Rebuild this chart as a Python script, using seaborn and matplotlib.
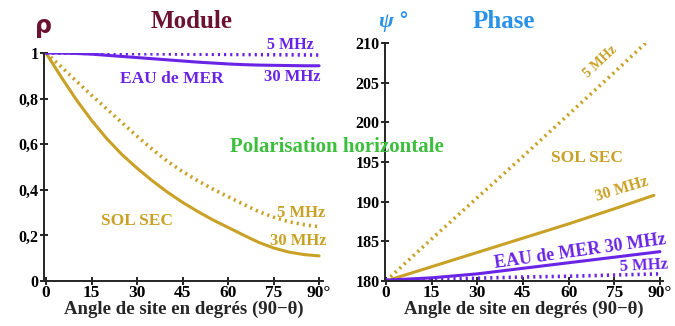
import matplotlib
matplotlib.use("Agg")
import matplotlib.pyplot as plt
import seaborn as sns

# Module (rho) vs elevation angle, read every 5 degrees
angle_mod = [0, 5, 10, 15, 20, 25, 30, 35, 40, 45, 50, 55, 60, 65, 70, 75, 80, 85, 90]
sol_sec_5_mod = [1.0, 0.94, 0.877, 0.815, 0.755, 0.695, 0.635, 0.578, 0.525, 0.48,
                 0.44, 0.403, 0.37, 0.337, 0.305, 0.28, 0.26, 0.247, 0.238]
sol_sec_30_mod = [1.0, 0.895, 0.795, 0.705, 0.625, 0.555, 0.495, 0.44, 0.39, 0.345,
                  0.305, 0.268, 0.235, 0.202, 0.17, 0.145, 0.127, 0.116, 0.11]
eau_mer_5_mod = [1.0, 0.9995, 0.999, 0.9985, 0.998, 0.9975, 0.997, 0.9965, 0.996, 0.9955,
                 0.995, 0.9945, 0.994, 0.9935, 0.993, 0.9925, 0.992, 0.9915, 0.991]
eau_mer_30_mod = [1.0, 0.9995, 0.998, 0.995, 0.99, 0.985, 0.98, 0.975, 0.97, 0.965,
                  0.96, 0.956, 0.952, 0.949, 0.947, 0.946, 0.945, 0.944, 0.944]

# Phase (psi) vs elevation angle
angle_sol5_ph = [0, 15, 30, 45, 60, 75, 87]
sol_sec_5_ph = [180.0, 185.3, 190.5, 195.7, 201.0, 206.3, 210.6]
angle_sol30_ph = [0, 15, 30, 45, 60, 75, 88]
sol_sec_30_ph = [180.0, 181.8, 183.6, 185.4, 187.2, 189.1, 190.8]
angle_mer_ph = [0, 15, 30, 45, 60, 75, 90]
eau_mer_30_ph = [180.1, 180.4, 180.9, 181.6, 182.3, 183.0, 183.7]
eau_mer_5_ph = [180.1, 180.2, 180.35, 180.5, 180.6, 180.75, 180.9]

x_ticks = [0, 15, 30, 45, 60, 75, 90]
x_ticklabels = ["0", "15", "30", "45", "60", "75", "90°"]
mod_ticks = [0, 0.2, 0.4, 0.6, 0.8, 1]
mod_ticklabels = ["0", "0,2", "0,4", "0,6", "0,8", "1"]
ph_ticks = [180, 185, 190, 195, 200, 205, 210]

GOLD = "#C9A126"
PURPLE = "#6A24E6"
GREEN = "#3DBE3D"
MAROON = "#6B1232"
BLUE = "#2A92E6"
DOTS = (0, (0.6, 1.1))

sns.set_style("ticks")
plt.rcParams["font.family"] = ["Liberation Serif", "DejaVu Serif"]
plt.rcParams["font.weight"] = "bold"

W, H = 675, 326
fig = plt.figure(figsize=(W / 100, H / 100), dpi=100)


def fx(px):
    return px / W


def fy(py):
    return 1 - py / H


ax1 = fig.add_axes([fx(44), fy(281), 279 / W, 228 / H])
ax2 = fig.add_axes([fx(385), fy(281), 278 / W, 238 / H])

sns.lineplot(x=angle_mod, y=sol_sec_5_mod, ax=ax1, color=GOLD, lw=2.6, linestyle=DOTS)
sns.lineplot(x=angle_mod, y=sol_sec_30_mod, ax=ax1, color=GOLD, lw=2.2)
sns.lineplot(x=angle_mod, y=eau_mer_5_mod, ax=ax1, color=PURPLE, lw=2.6, linestyle=DOTS)
sns.lineplot(x=angle_mod, y=eau_mer_30_mod, ax=ax1, color=PURPLE, lw=2.2)

sns.lineplot(x=angle_sol5_ph, y=sol_sec_5_ph, ax=ax2, color=GOLD, lw=2.6, linestyle=DOTS)
sns.lineplot(x=angle_sol30_ph, y=sol_sec_30_ph, ax=ax2, color=GOLD, lw=2.2)
sns.lineplot(x=angle_mer_ph, y=eau_mer_30_ph, ax=ax2, color=PURPLE, lw=2.2)
sns.lineplot(x=angle_mer_ph, y=eau_mer_5_ph, ax=ax2, color=PURPLE, lw=2.6, linestyle=DOTS)

ax1.set_xlim(-0.66, 91.3)
ax1.set_ylim(0, 1)
ax1.set_yticks(mod_ticks)
ax1.set_yticklabels(mod_ticklabels)
ax2.set_xlim(-0.3, 91.0)
ax2.set_ylim(180, 210)
ax2.set_yticks(ph_ticks)
ax2.set_yticklabels([str(t) for t in ph_ticks])

for ax in (ax1, ax2):
    sns.despine(ax=ax)
    ax.set_facecolor("none")
    ax.spines["left"].set_linewidth(1.4)
    ax.spines["bottom"].set_linewidth(1.4)
    ax.set_xticks(x_ticks)
    ax.set_xticklabels(x_ticklabels)
    ax.tick_params(axis="both", direction="inout", length=6, width=1.2, colors="black")
    ax.tick_params(axis="x", labelsize=12.5, pad=0)
    ax.tick_params(axis="y", labelsize=11.5, pad=1)
    for lab in ax.get_xticklabels() + ax.get_yticklabels():
        lab.set_fontweight("bold")
    ax.set_xlabel("Angle de site en degrés (90−θ)", fontsize=13.5, fontweight="bold", labelpad=0)
    ax.set_ylabel("")

# titles and axis symbols
fig.text(fx(44), fy(26), "ρ", color=MAROON, fontsize=17, ha="center", va="center",
         family=["DejaVu Sans"])
fig.text(fx(192), fy(21), "Module", color=MAROON, fontsize=18, fontweight="bold", ha="center", va="center")
fig.text(fx(386), fy(22), "ψ", color=BLUE, fontsize=16, style="italic", ha="center", va="center")
fig.text(fx(403), fy(20), "°", color=BLUE, fontsize=14, ha="center", va="center", family=["DejaVu Sans"])
fig.text(fx(504), fy(22), "Phase", color=BLUE, fontsize=18, fontweight="bold", ha="center", va="center")
fig.text(fx(337), fy(147), "Polarisation horizontale", color=GREEN, fontsize=15,
         fontweight="bold", ha="center", va="center")

# left panel labels
fig.text(fx(290), fy(45), "5 MHz", color=PURPLE, fontsize=11.5, fontweight="bold", ha="center", va="center")
fig.text(fx(292), fy(77), "30 MHz", color=PURPLE, fontsize=12, fontweight="bold", ha="center", va="center")
fig.text(fx(172), fy(79), "EAU de MER", color=PURPLE, fontsize=12.5, fontweight="bold", ha="center", va="center")
fig.text(fx(137), fy(221), "SOL SEC", color=GOLD, fontsize=12.5, fontweight="bold", ha="center", va="center")
fig.text(fx(301), fy(213), "5 MHz", color=GOLD, fontsize=12, fontweight="bold", ha="center", va="center")
fig.text(fx(298), fy(241), "30 MHz", color=GOLD, fontsize=12, fontweight="bold", ha="center", va="center")

# right panel labels
fig.text(fx(600), fy(62), "5 MHz", color=GOLD, fontsize=10, fontweight="bold", ha="center", va="center",
         rotation=43, rotation_mode="anchor")
fig.text(fx(587), fy(158), "SOL SEC", color=GOLD, fontsize=12.5, fontweight="bold", ha="center", va="center")
fig.text(fx(622), fy(189), "30 MHz", color=GOLD, fontsize=11.5, fontweight="bold", ha="center", va="center",
         rotation=17, rotation_mode="anchor")
fig.text(fx(580), fy(251), "EAU de MER 30 MHz", color=PURPLE, fontsize=13, fontweight="bold",
         ha="center", va="center", rotation=8, rotation_mode="anchor")
fig.text(fx(644), fy(266), "5 MHz", color=PURPLE, fontsize=12, fontweight="bold", ha="center", va="center",
         rotation=3, rotation_mode="anchor")

fig.savefig("out.png", dpi=100, facecolor="white")
